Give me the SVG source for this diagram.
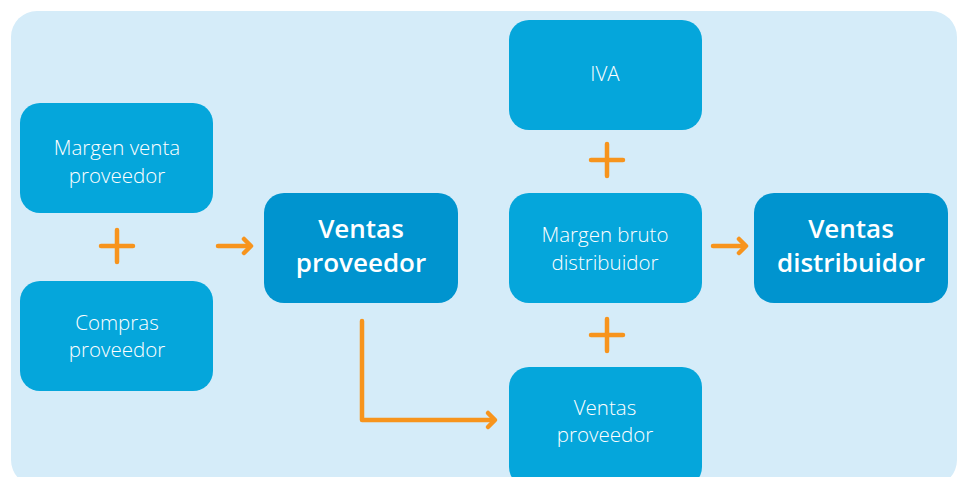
<svg xmlns="http://www.w3.org/2000/svg" width="959" height="477" viewBox="0 0 959 477">
<defs>
<style>
.bg{fill:#d5ecf9}
.box{fill:#05a6db}
.dark{fill:#0094cf}
.t{font-family:"Open Sans","Noto Sans",sans-serif;font-size:20.5px;font-weight:350;fill:#ffffff;text-anchor:middle}
.tb{font-family:"Open Sans","Noto Sans",sans-serif;font-size:26px;font-weight:600;fill:#ffffff;text-anchor:middle}
.c{stroke:#f7941d;stroke-width:4.5;fill:none;stroke-linecap:round;stroke-linejoin:round}
</style>
<marker id="ah" viewBox="0 0 10 10" refX="8" refY="5" markerWidth="10" markerHeight="10" markerUnits="userSpaceOnUse" orient="auto" overflow="visible">
<path d="M2,-2 L9,5 L2,12" fill="none" stroke="#f7941d" stroke-width="4.5" stroke-linecap="round" stroke-linejoin="round"/>
</marker>
</defs>
<rect class="bg" x="11" y="11" width="946" height="475" rx="26"/>
<g id="margen-venta-proveedor"><rect class="box" x="20" y="103" width="193" height="110" rx="20"/><text class="t" x="117" y="155">Margen venta</text><text class="t" x="117" y="183">proveedor</text></g>
<g id="compras-proveedor"><rect class="box" x="20" y="281" width="193" height="110" rx="20"/><text class="t" x="117" y="330">Compras</text><text class="t" x="117" y="357">proveedor</text></g>
<g id="ventas-proveedor"><rect class="dark" x="264" y="193" width="194" height="110" rx="20"/><text class="tb" x="361" y="238">Ventas</text><text class="tb" x="361" y="272">proveedor</text></g>
<g id="iva"><rect class="box" x="509" y="20" width="193" height="110" rx="20"/><text class="t" x="605" y="81">IVA</text></g>
<g id="margen-bruto-distribuidor"><rect class="box" x="509" y="193" width="193" height="110" rx="20"/><text class="t" x="605" y="242">Margen bruto</text><text class="t" x="605" y="270">distribuidor</text></g>
<g id="ventas-distribuidor"><rect class="dark" x="754" y="193" width="194" height="110" rx="20"/><text class="tb" x="851" y="238">Ventas</text><text class="tb" x="851" y="272">distribuidor</text></g>
<g id="ventas-proveedor-2"><rect class="box" x="509" y="367" width="193" height="120" rx="20"/><text class="t" x="605" y="415">Ventas</text><text class="t" x="605" y="442">proveedor</text></g>
<g id="connectors">
<path class="c" d="M101,246 H133 M117,230 V262"/>
<path class="c" d="M591,160 H623 M607,144 V176"/>
<path class="c" d="M591,335 H623 M607,319 V351"/>
<path class="c" d="M218,246 H250" marker-end="url(#ah)"/>
<path class="c" d="M713,246 H745" marker-end="url(#ah)"/>
<path class="c" d="M362,321 V420 H494" marker-end="url(#ah)"/>
</g>
</svg>
